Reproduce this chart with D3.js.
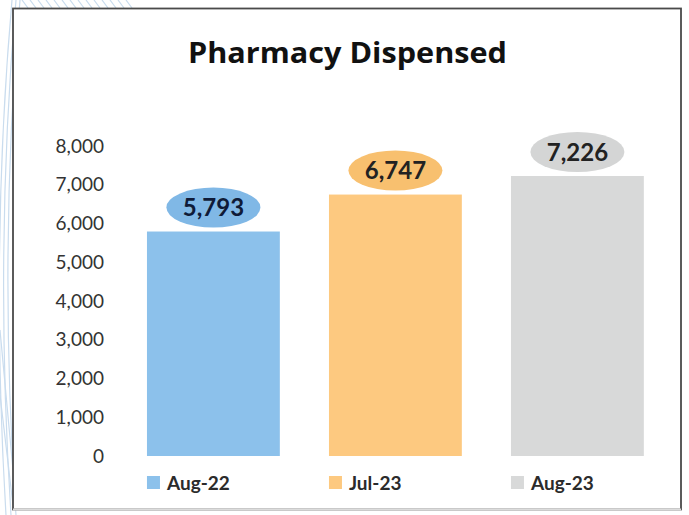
<!DOCTYPE html>
<html><head><meta charset="utf-8">
<script src="https://cdn.jsdelivr.net/npm/d3@7"></script>
<style>body{margin:0;background:#fff;}svg{display:block;}</style>
</head><body>
<script>
const categories = ["Aug-22", "Jul-23", "Aug-23"];
const values = [5793, 6747, 7226];
const labels = ["5,793", "6,747", "7,226"];
const tickValues = [0, 1000, 2000, 3000, 4000, 5000, 6000, 7000, 8000];
const barColors = ["#8cc1eb", "#fdc980", "#d8d9d9"];
const ellipseColors = ["#80b8e6", "#f8c06f", "#d4d5d5"];
const labelColors = ["#0f1b38", "#222222", "#222222"];

const W = 689, H = 515;
const svg = d3.select("body").append("svg").attr("width", W).attr("height", H);

// decorative background curves
const deco = svg.append("g").attr("fill", "none").attr("stroke", "#c9dcee").attr("stroke-width", 1.2);
[[-2, 4], [2, 9], [6, 14]].forEach(([a, b]) => {
  deco.append("path").attr("d", `M${a+14},0 Q${a-8},250 ${b+2},515`);
});
deco.append("path").attr("d", "M0,330 L13,470");
deco.append("path").attr("d", "M0,395 L13,505");
for (let i = 0; i < 14; i++) {
  const x = 22 + i * 8;
  deco.append("path").attr("d", `M${x},0 Q${x+3},4 ${x+6},8`);
}

// frame
svg.append("rect").attr("x", 13).attr("y", 8.5).attr("width", 668).attr("height", 501)
  .attr("fill", "#ffffff").attr("stroke", "#4a4a4a").attr("stroke-width", 1.8);
svg.append("line").attr("x1", 13).attr("x2", 681).attr("y1", 509.5).attr("y2", 509.5)
  .attr("stroke", "#dcdcdc").attr("stroke-width", 2);

const font = "Lato, 'Open Sans', sans-serif";

svg.append("text").attr("x", 347.5).attr("y", 63).attr("text-anchor", "middle")
  .attr("font-family", "'Open Sans', Lato, sans-serif").attr("font-weight", 700).attr("font-size", 29)
  .attr("textLength", 319).attr("lengthAdjust", "spacingAndGlyphs")
  .attr("fill", "#111").text("Pharmacy Dispensed");

const y = d3.scaleLinear().domain([0, 8000]).range([456, 146]);
const x = d3.scaleBand().domain(categories).range([122.4, 668.4]).paddingInner(0.27).paddingOuter(0.135);

const yAxis = d3.axisLeft(y).tickValues(tickValues).tickSize(0).tickPadding(0)
  .tickFormat(d3.format(","));
const ga = svg.append("g").attr("transform", "translate(104,0)").call(yAxis);
ga.select(".domain").remove();
ga.selectAll("text").attr("font-family", font).attr("font-size", 19).attr("fill", "#333");

svg.selectAll("rect.bar").data(values).join("rect").attr("class", "bar")
  .attr("x", (d, i) => x(categories[i])).attr("width", x.bandwidth())
  .attr("y", d => y(d)).attr("height", d => y(0) - y(d))
  .attr("fill", (d, i) => barColors[i]);

const rx = 47, ry = 20;
svg.selectAll("ellipse.lab").data(values).join("ellipse").attr("class", "lab")
  .attr("cx", (d, i) => x(categories[i]) + x.bandwidth() / 2)
  .attr("cy", d => y(d) - 4 - ry).attr("rx", rx).attr("ry", ry)
  .attr("fill", (d, i) => ellipseColors[i]);
svg.selectAll("text.lab").data(values).join("text").attr("class", "lab")
  .attr("x", (d, i) => x(categories[i]) + x.bandwidth() / 2)
  .attr("y", d => y(d) - 4 - ry).attr("dy", "0.36em").attr("text-anchor", "middle")
  .attr("font-family", font).attr("font-weight", 700).attr("font-size", 24)
  .attr("fill", (d, i) => labelColors[i]).text((d, i) => labels[i]);

const lg = svg.selectAll("g.leg").data(categories).join("g").attr("class", "leg")
  .attr("transform", d => `translate(${x(d)},476)`);
lg.append("rect").attr("width", 13).attr("height", 13).attr("fill", (d, i) => barColors[i]);
lg.append("text").attr("x", 20).attr("y", 13.5).attr("font-family", font).attr("font-weight", 700)
  .attr("font-size", 19).attr("fill", "#2b2b2b").text(d => d);
</script>
</body></html>
